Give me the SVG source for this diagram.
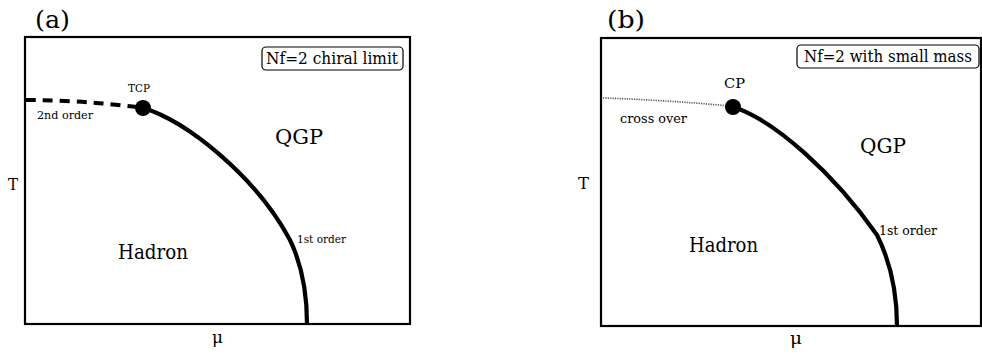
<svg xmlns="http://www.w3.org/2000/svg" width="982" height="354" viewBox="0 0 982 354">
<style>
text{fill:#000;font-family:"DejaVu Serif","Liberation Serif",serif}
.frame{fill:none;stroke:#000;stroke-width:2.2}
.lbl{fill:#fff;stroke:#000;stroke-width:1.2}
.first{fill:none;stroke:#000;stroke-width:4.2;stroke-linecap:butt}
.dash{fill:none;stroke:#000;stroke-width:4;stroke-dasharray:10 7}
.dot{fill:none;stroke:#555;stroke-width:1.6;stroke-dasharray:1.2 1.2}
.big{font-size:20px}
.sm{font-size:11px}
.smb{font-size:12.5px}
.md{font-size:11.5px}
.title{font-size:25px}
.ax{font-size:16px}
.box{font-size:16px}
</style>
<g id="panel-a">
  <text class="title" x="35" y="28" textLength="35" lengthAdjust="spacingAndGlyphs">(a)</text>
  <rect class="frame" x="25" y="37" width="385" height="287"/>
  <g id="label-a"><rect class="lbl" x="262" y="47" width="141" height="23" rx="4"/><text class="box" x="266" y="64" textLength="132" lengthAdjust="spacingAndGlyphs">Nf=2 chiral limit</text></g>
  <g id="connectors-a">
    <path class="dash" d="M26,100 Q80,100 140,107.5"/>
    <path class="first" d="M143,108 C185,120 255,175 290,240 C302,265 307,295 307,324"/>
  </g>
  <g id="tcp"><circle cx="143" cy="108" r="8"/><text class="md" x="128" y="92" textLength="22" lengthAdjust="spacingAndGlyphs">TCP</text></g>
  <text class="sm" x="37" y="119" textLength="56" lengthAdjust="spacingAndGlyphs">2nd order</text>
  <text class="big" x="275" y="144" textLength="48" lengthAdjust="spacingAndGlyphs">QGP</text>
  <text class="sm" x="297" y="243" textLength="49" lengthAdjust="spacingAndGlyphs">1st order</text>
  <text class="big" x="118" y="259" textLength="70" lengthAdjust="spacingAndGlyphs">Hadron</text>
  <text class="ax" x="8" y="190" textLength="10" lengthAdjust="spacingAndGlyphs">T</text>
  <text class="ax" x="212" y="343" textLength="11" lengthAdjust="spacingAndGlyphs">μ</text>
</g>
<g id="panel-b">
  <text class="title" x="607" y="28" textLength="38" lengthAdjust="spacingAndGlyphs">(b)</text>
  <rect class="frame" x="601" y="38" width="380" height="288"/>
  <g id="label-b"><rect class="lbl" x="797" y="45" width="182" height="23" rx="4"/><text class="box" x="804" y="62" textLength="168" lengthAdjust="spacingAndGlyphs">Nf=2 with small mass</text></g>
  <g id="connectors-b">
    <path class="dot" d="M603,98 Q665,100 730,106"/>
    <path class="first" d="M733,107 C775,120 835,175 877,235 C892,265 897,295 897,326"/>
  </g>
  <g id="cp"><circle cx="733" cy="107" r="8"/><text class="smb" x="724" y="88" textLength="21" lengthAdjust="spacingAndGlyphs">CP</text></g>
  <text class="smb" x="620" y="123" textLength="67" lengthAdjust="spacingAndGlyphs">cross over</text>
  <text class="big" x="860" y="153" textLength="46" lengthAdjust="spacingAndGlyphs">QGP</text>
  <text class="smb" x="879" y="235" textLength="58" lengthAdjust="spacingAndGlyphs">1st order</text>
  <text class="big" x="689" y="252" textLength="69" lengthAdjust="spacingAndGlyphs">Hadron</text>
  <text class="ax" x="578" y="189" textLength="11" lengthAdjust="spacingAndGlyphs">T</text>
  <text class="ax" x="790" y="344" textLength="12" lengthAdjust="spacingAndGlyphs">μ</text>
</g>
</svg>
